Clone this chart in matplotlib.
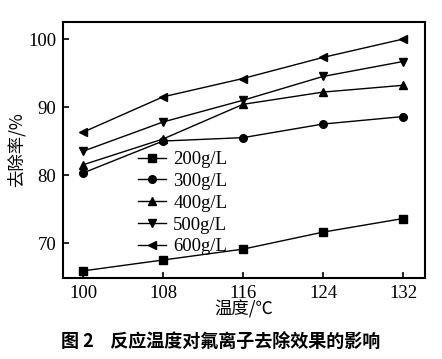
import matplotlib.pyplot as plt

# temperature (C) and removal rate (%) for each fluoride concentration
temps = [100, 108, 116, 124, 132]
rate_200 = [65.9, 67.5, 69.1, 71.6, 73.6]
rate_300 = [80.3, 85.0, 85.5, 87.5, 88.6]
rate_400 = [81.5, 85.3, 90.4, 92.2, 93.2]
rate_500 = [83.5, 87.8, 91.0, 94.5, 96.7]
rate_600 = [86.3, 91.5, 94.2, 97.3, 100.0]

labels = ['200g/L', '300g/L', '400g/L', '500g/L', '600g/L']
markers = ['s', 'o', '^', 'v', '<']
series = [rate_200, rate_300, rate_400, rate_500, rate_600]

plt.rcParams['font.family'] = ['Liberation Serif', 'Noto Sans CJK SC']

fig = plt.figure(figsize=(4.42, 3.59), dpi=100)
ax = fig.add_axes([0.1425, 0.2265, 0.819, 0.712])

for vals, lab, mk in zip(series, labels, markers):
    ax.plot(temps, vals, color='black', lw=1.0, marker=mk, markersize=5.5, label=lab)

ax.set_xlim(98, 134.2)
ax.set_ylim(64.9, 102.5)
ax.set_xticks(temps)
ax.set_yticks([70, 80, 90, 100])
ax.tick_params(direction='in', length=4, width=1.2, labelsize=13.5, pad=5)
for s in ax.spines.values():
    s.set_linewidth(1.5)

cjk = ['Noto Sans CJK SC', 'DejaVu Sans']
ax.set_ylabel('去除率/%', fontsize=12.5, family=cjk, labelpad=2)
ax.set_xlabel('温度/℃', fontsize=12.5, family=cjk, labelpad=-1)

ax.legend(loc='upper left', bbox_to_anchor=(0.18, 0.532), frameon=False,
          fontsize=13.5, handlelength=1.5, handletextpad=0.4,
          labelspacing=0.25, borderpad=0)

fig.text(0.5, 0.047, '图 2    反应温度对氟离子去除效果的影响', ha='center',
         va='center', fontsize=13, fontweight='bold', family=cjk)

fig.savefig('out.png', dpi=100)
